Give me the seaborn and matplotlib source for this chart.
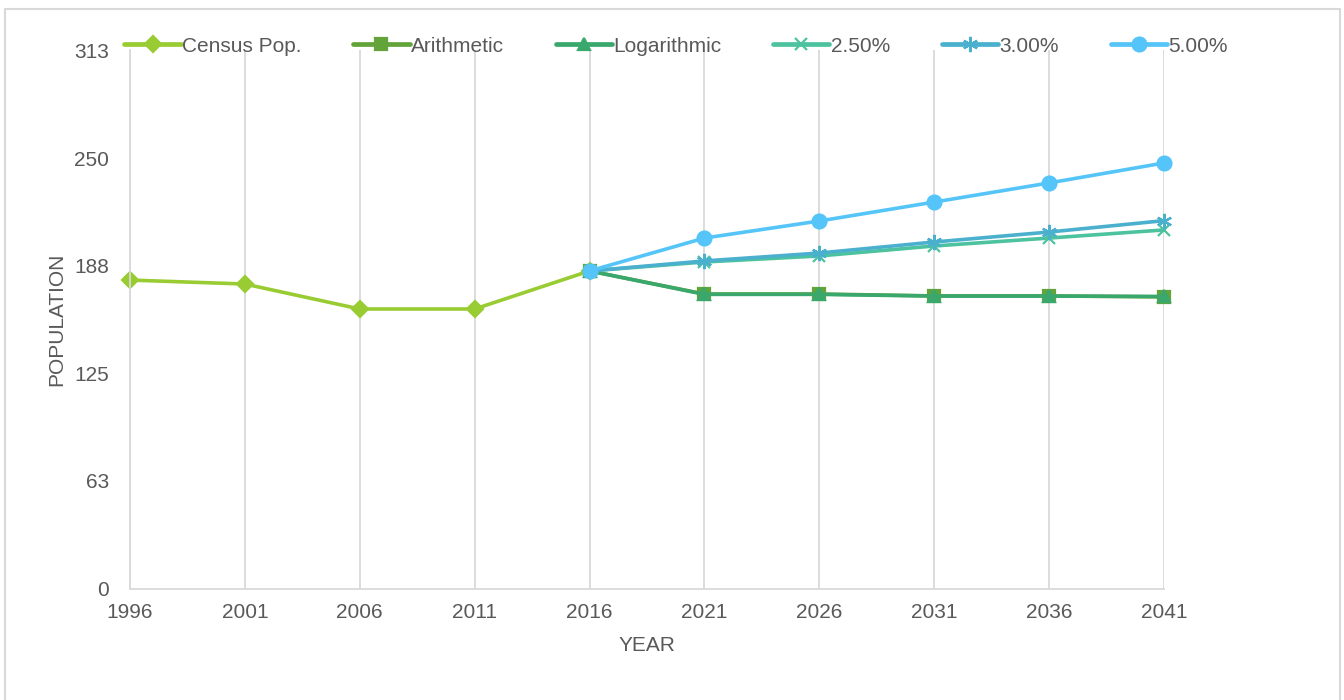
import matplotlib
matplotlib.use("Agg")
import matplotlib.pyplot as plt
import pandas as pd
import seaborn as sns
from matplotlib.patches import Rectangle

# données
census_years = [1996, 2001, 2006, 2011, 2016]
census_pop = [179.4, 177.1, 162.6, 162.6, 184.7]

proj_years = [2016, 2021, 2026, 2031, 2036, 2041]
arithmetic = [184.7, 171.3, 171.3, 170.2, 170.2, 169.6]
logarithmic = [184.7, 171.1, 171.1, 170.1, 170.1, 169.9]
rate_250 = [184.7, 189.9, 193.4, 199.2, 203.8, 208.5]
rate_300 = [184.7, 190.5, 195.1, 201.5, 207.3, 213.9]
rate_500 = [184.7, 203.8, 213.7, 224.7, 235.8, 247.4]

year_ticks = [1996, 2001, 2006, 2011, 2016, 2021, 2026, 2031, 2036, 2041]
pop_ticks = [0, 63, 125, 188, 250, 313]

sns.set_style("white")
plt.rcParams["font.family"] = ["Liberation Sans", "DejaVu Sans"]

series = [
    ("Census Pop.", census_years, census_pop, "#99CC33", "D", 8),
    ("Arithmetic", proj_years, arithmetic, "#62A43A", "s", 9),
    ("Logarithmic", proj_years, logarithmic, "#3AA76D", "^", 9),
    ("2.50%", proj_years, rate_250, "#4CC39E", "x", 9),
    ("3.00%", proj_years, rate_300, "#4BB0CE", (6, 2, 0), 11),
    ("5.00%", proj_years, rate_500, "#55C5F9", "o", 10),
]

fig = plt.figure(figsize=(13.44, 7.0), dpi=100)
ax = fig.add_axes([130 / 1344, 111 / 700, 1034 / 1344, 539 / 700])

for name, xs, ys, color, marker, ms in series:
    df = pd.DataFrame({"year": xs, "pop": ys})
    sns.lineplot(data=df, x="year", y="pop", ax=ax, color=color, marker=marker,
                 markersize=ms, linewidth=2.6, markeredgecolor=color,
                 markeredgewidth=1.6, label=name, clip_on=False)

ax.set_xlim(1996, 2041)
ax.set_ylim(0, 313)
ax.set_xticks(year_ticks)
ax.set_yticks(pop_ticks)
ax.grid(axis="x", color="#D9D9D9", linewidth=1.3)
ax.set_axisbelow(True)
for side in ["top", "right"]:
    ax.spines[side].set_visible(False)
for side in ["left", "bottom"]:
    ax.spines[side].set_color("#D9D9D9")
    ax.spines[side].set_linewidth(1.3)
ax.tick_params(axis="both", length=0, labelsize=15, labelcolor="#595959")
ax.tick_params(axis="x", pad=10)
ax.tick_params(axis="y", pad=15)
ax.set_xlabel("YEAR", fontsize=15, color="#595959", labelpad=10)
ax.set_ylabel("POPULATION", fontsize=15, color="#595959", labelpad=6)

handles, labels = ax.get_legend_handles_labels()
ax.get_legend().remove()
leg = fig.legend(handles, labels, loc="center", bbox_to_anchor=(676 / 1344, 1 - 46 / 700),
                 ncol=6, frameon=False, fontsize=15, labelcolor="#595959",
                 handlelength=2.7, handletextpad=0.05, columnspacing=2.5)
for line in leg.get_lines():
    line.set_linewidth(3.4)

# cadre gris autour de la figure
fig.patches.append(Rectangle((5 / 1344, -0.05), 1335 / 1344, 1.05 - 9 / 700,
                             transform=fig.transFigure, fill=False,
                             edgecolor="#D9D9D9", linewidth=1.5))

fig.savefig("out.png", dpi=100)
